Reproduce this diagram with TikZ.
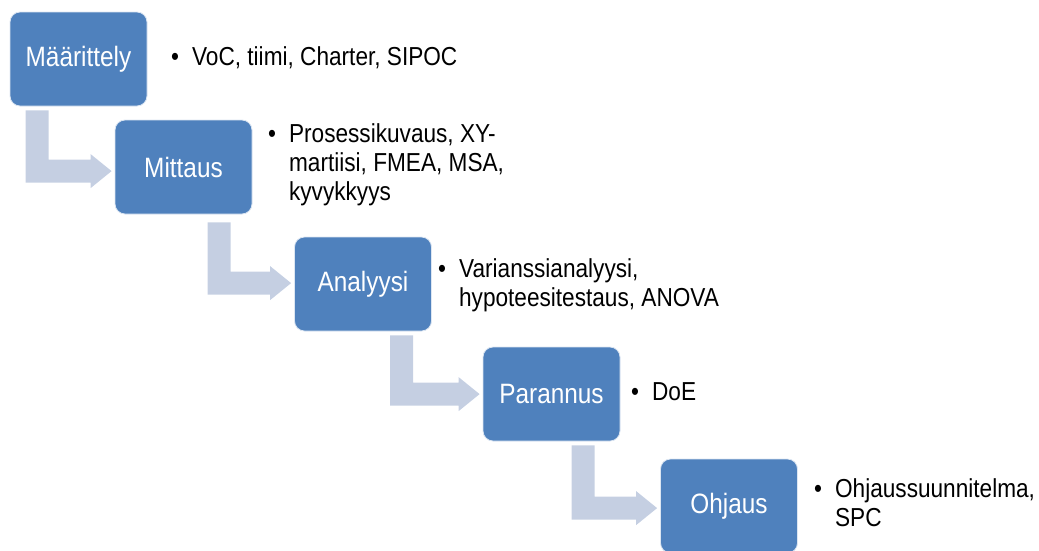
\documentclass[tikz,border=0pt]{standalone}
\usepackage{fontspec}
\setmainfont{Liberation Sans}[FakeStretch=0.87]
\usetikzlibrary{calc}
\definecolor{boxblue}{RGB}{79,129,189}
\definecolor{arrowc}{RGB}{197,207,226}
\newcommand\bendarrow[5]{%
  \fill[arrowc] let \p1=(#1.south west), \p2=(#2.north west) in
    (\x1+#3, \y1-#4) -- (\x1+#3+23pt, \y1-#4) -- (\x1+#3+23pt, \y2-#5+23pt)
    -- (\x2-24pt, \y2-#5+23pt) -- (\x2-24pt, \y2-#5+28.5pt)
    -- (\x2-3pt, \y2-#5+11.5pt) -- (\x2-24pt, \y2-#5-5.5pt)
    -- (\x2-24pt, \y2-#5) -- (\x1+#3, \y2-#5) -- cycle;}
\begin{document}
\begin{tikzpicture}[x=1pt,y=-1pt,
  stepbox/.style={fill=boxblue, draw=white!80!boxblue, line width=0.8pt,
    rounded corners=10pt, minimum width=137pt, minimum height=94pt,
    inner sep=0pt, text=white, font=\fontsize{28}{32}\selectfont},
  bul/.style={anchor=base west, inner sep=0pt, text=black,
    font=\fontsize{26}{29}\selectfont}]
\useasboundingbox (0,0) rectangle (1039,550);
\node[stepbox] (b1) at (78.5,59) {Määrittely};
\node[stepbox] (b2) at (183.5,167) {Mittaus};
\node[stepbox] (b3) at (363,284) {Analyysi};
\node[stepbox] (b4) at (551.5,394) {Parannus};
\node[stepbox] (b5) at (729,506) {Ohjaus};
\bendarrow{b1}{b2}{16pt}{4pt}{63pt}
\bendarrow{b2}{b3}{93pt}{8pt}{58pt}
\bendarrow{b3}{b4}{96pt}{4pt}{59pt}
\bendarrow{b4}{b5}{89pt}{4pt}{61pt}
\node[bul] (t1) at (171,65) {\textbullet\hspace{13pt}\begin{tabular}[t]{@{}l@{}}VoC, tiimi, Charter, SIPOC\end{tabular}};
\node[bul] (t2) at (268,142) {\textbullet\hspace{13pt}\begin{tabular}[t]{@{}l@{}}Prosessikuvaus, XY-\\martiisi, FMEA, MSA,\\kyvykkyys\end{tabular}};
\node[bul] (t3) at (438,277) {\textbullet\hspace{13pt}\begin{tabular}[t]{@{}l@{}}Varianssianalyysi,\\hypoteesitestaus, ANOVA\end{tabular}};
\node[bul] (t4) at (631,400) {\textbullet\hspace{13pt}\begin{tabular}[t]{@{}l@{}}DoE\end{tabular}};
\node[bul] (t5) at (814,497) {\textbullet\hspace{13pt}\begin{tabular}[t]{@{}l@{}}Ohjaussuunnitelma,\\SPC\end{tabular}};
\end{tikzpicture}
\end{document}
